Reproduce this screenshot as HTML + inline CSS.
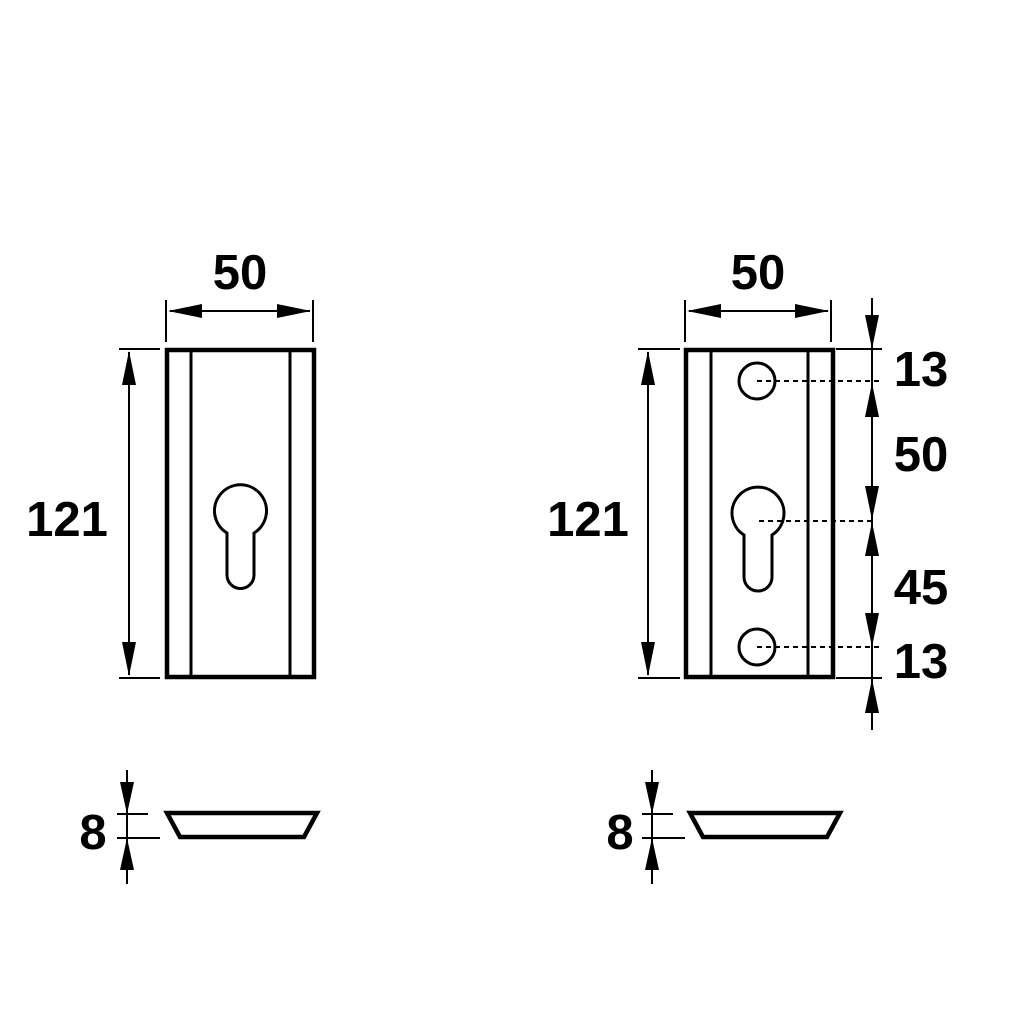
<!DOCTYPE html>
<html><head><style>body{margin:0;background:#fff}</style></head><body>
<svg width="1024" height="1024" viewBox="0 0 1024 1024" xmlns="http://www.w3.org/2000/svg">
<g font-family="Liberation Sans, sans-serif" font-weight="bold" font-size="49" fill="#000" text-anchor="middle">
<text x="240" y="289">50</text>
<text x="67" y="536">121</text>
<text x="758" y="289">50</text>
<text x="588" y="536">121</text>
<text x="921" y="386">13</text>
<text x="921" y="471">50</text>
<text x="921" y="604">45</text>
<text x="921" y="678">13</text>
<text x="93" y="849">8</text>
<text x="620" y="849">8</text>
</g>
<g stroke="#000" fill="none">
<rect x="167" y="350" width="147" height="327" stroke-width="4.5"/>
<line x1="191" y1="350" x2="191" y2="677" stroke-width="3"/>
<line x1="290" y1="350" x2="290" y2="677" stroke-width="3"/>
<path d="M227,533 A26,26 0 1 1 254,533 L254,575 A13.5,13.5 0 0 1 227,575 Z" stroke-width="3"/>
<line x1="166" y1="300" x2="166" y2="342" stroke-width="2"/>
<line x1="313" y1="300" x2="313" y2="342" stroke-width="2"/>
<line x1="170" y1="311" x2="310" y2="311" stroke-width="2"/>
<line x1="119" y1="349" x2="160" y2="349" stroke-width="2"/>
<line x1="119" y1="678" x2="160" y2="678" stroke-width="2"/>
<line x1="129" y1="352" x2="129" y2="675" stroke-width="2"/>
<rect x="686" y="350" width="147" height="327" stroke-width="4.5"/>
<line x1="711" y1="350" x2="711" y2="677" stroke-width="3"/>
<line x1="808" y1="350" x2="808" y2="677" stroke-width="3"/>
<circle cx="757" cy="381" r="18" stroke-width="3"/>
<circle cx="757" cy="647" r="18" stroke-width="3"/>
<path d="M744,535 A26,26 0 1 1 772,535 L772,577 A14,14 0 0 1 744,577 Z" stroke-width="3"/>
<g stroke-width="2" stroke-dasharray="5,4">
<line x1="757" y1="381" x2="882" y2="381"/>
<line x1="759" y1="521" x2="872" y2="521"/>
<line x1="757" y1="647" x2="882" y2="647"/>
</g>
<line x1="685" y1="300" x2="685" y2="342" stroke-width="2"/>
<line x1="831" y1="300" x2="831" y2="342" stroke-width="2"/>
<line x1="689" y1="311" x2="828" y2="311" stroke-width="2"/>
<line x1="638" y1="349" x2="680" y2="349" stroke-width="2"/>
<line x1="638" y1="678" x2="680" y2="678" stroke-width="2"/>
<line x1="648" y1="352" x2="648" y2="675" stroke-width="2"/>
<line x1="836" y1="349" x2="882" y2="349" stroke-width="2"/>
<line x1="836" y1="678" x2="882" y2="678" stroke-width="2"/>
<line x1="872" y1="298" x2="872" y2="730" stroke-width="2"/>
<polygon points="167,813 317,813 304,837 180,837" stroke-width="4.5"/>
<polygon points="690,813 840,813 827,837 703,837" stroke-width="4.5"/>
<line x1="127" y1="770" x2="127" y2="884" stroke-width="2"/>
<line x1="117" y1="814" x2="148" y2="814" stroke-width="2"/>
<line x1="117" y1="838" x2="160" y2="838" stroke-width="2"/>
<line x1="652" y1="770" x2="652" y2="884" stroke-width="2"/>
<line x1="642" y1="814" x2="673" y2="814" stroke-width="2"/>
<line x1="642" y1="838" x2="685" y2="838" stroke-width="2"/>
</g>
<g fill="#000">
<polygon points="168,311 202,304 202,318"/>
<polygon points="311,311 277,304 277,318"/>
<polygon points="687,311 721,304 721,318"/>
<polygon points="829,311 795,304 795,318"/>
<polygon points="129,351 122,385 136,385"/>
<polygon points="129,676 122,642 136,642"/>
<polygon points="648,351 641,385 655,385"/>
<polygon points="648,676 641,642 655,642"/>
<polygon points="872,349 865,315 879,315"/>
<polygon points="872,383 865,417 879,417"/>
<polygon points="872,520 865,486 879,486"/>
<polygon points="872,522 865,556 879,556"/>
<polygon points="872,647 865,613 879,613"/>
<polygon points="872,679 865,713 879,713"/>
<polygon points="127,814 120,782 134,782"/>
<polygon points="127,838 120,870 134,870"/>
<polygon points="652,814 645,782 659,782"/>
<polygon points="652,838 645,870 659,870"/>
</g>
</svg>
</body></html>
